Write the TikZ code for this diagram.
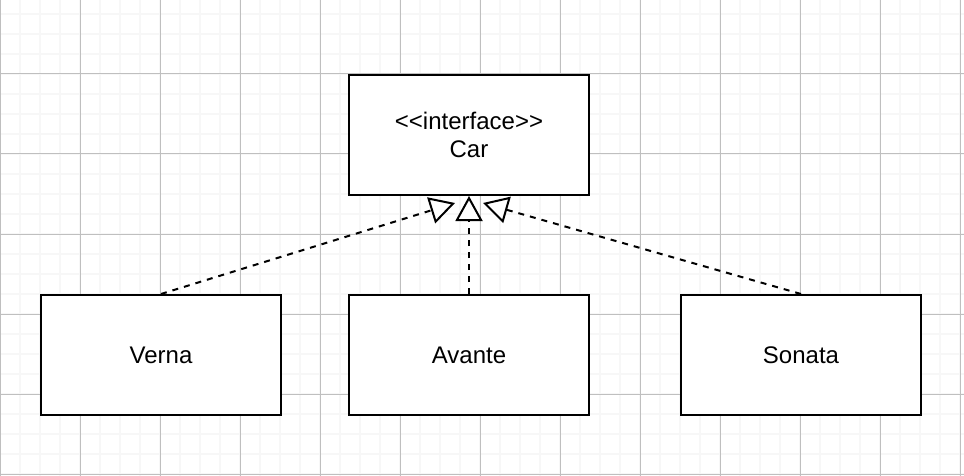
\documentclass[tikz,border=0pt]{standalone}
\usepackage{fontspec}
\setmainfont{Liberation Sans}
\usetikzlibrary{arrows.meta}

\begin{document}
\begin{tikzpicture}[x=1pt, y=-1pt,
  class box/.style={draw, line width=2pt, fill=white, minimum width=240pt,
    minimum height=120pt, align=center, inner sep=0pt,
    font=\fontsize{24}{28}\selectfont},
  realize/.style={line width=2pt, dash pattern=on 6pt off 6pt,
    -{Triangle[open, length=25pt, width=27pt, fill=white]}},
  minor line/.style={line width=2pt, color=black!3},
  major line/.style={line width=1pt, color=black!25}]

\useasboundingbox (0,0) rectangle (964,476);
\fill [white] (0,0) rectangle (964,476);

% grid
\foreach \x in {20,40,...,960}
  \draw [minor line] (\x,0) -- (\x,476);
\foreach \y in {14,34,...,474}
  \draw [minor line] (0,\y) -- (964,\y);
\foreach \x in {0,80,...,960}
  \draw [major line] (\x,0) -- (\x,476);
\foreach \y in {74,154,...,474}
  \draw [major line] (0,\y) -- (964,\y);

\node [class box] (Car) at (469,135) {{<}{<}interface{>}{>}\\Car};

\foreach \m/\x in {Verna/161, Avante/469, Sonata/801}
  \node [class box] (\m) at (\x,355) {\m};

\coordinate (tip-Verna) at (455,203);
\coordinate (tip-Sonata) at (483,203);

\draw [realize] (Verna.north) -- (tip-Verna);
\draw [realize] (Avante.north) -- (Car.south);
\draw [realize] (Sonata.north) -- (tip-Sonata);

\end{tikzpicture}
\end{document}
